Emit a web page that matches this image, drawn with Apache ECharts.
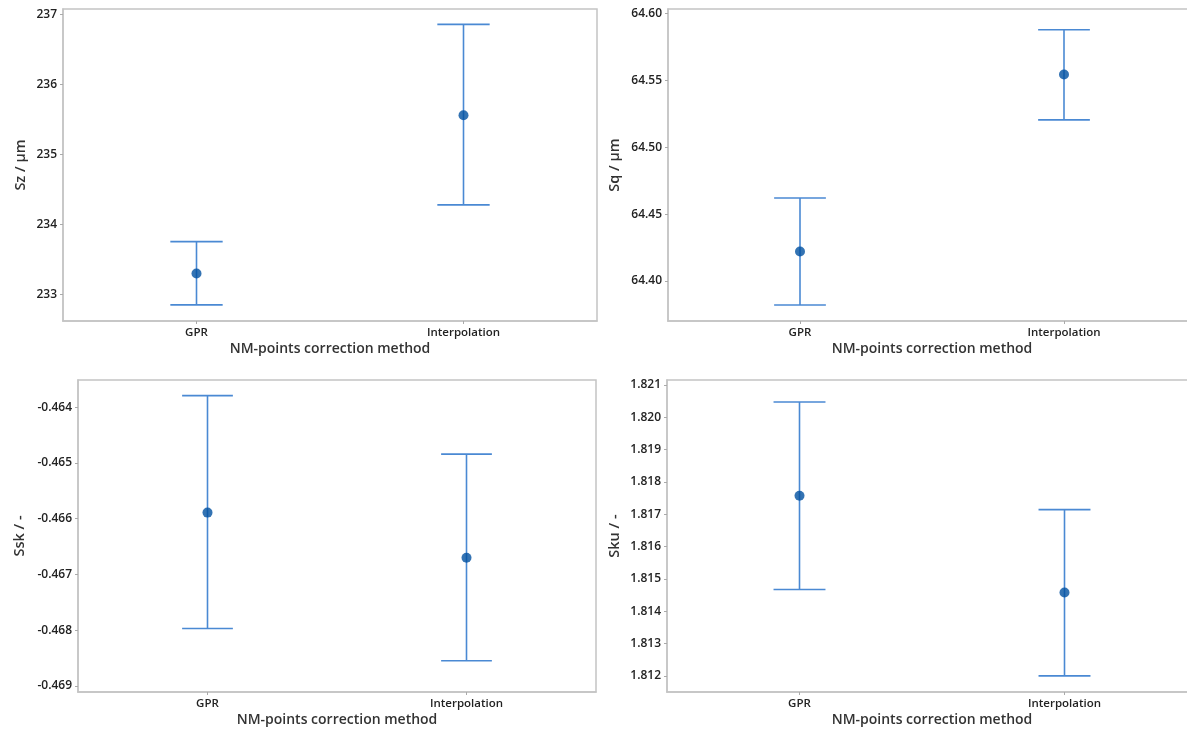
<!DOCTYPE html>
<html>
<head>
<meta charset="utf-8">
<script src="https://cdn.jsdelivr.net/npm/echarts@6/dist/echarts.min.js"></script>
<style>
html,body{margin:0;padding:0;background:#fff;}
#main{width:1187px;height:731px;}
</style>
</head>
<body>
<div id="main"></div>
<script>
// ---- data ----
var categories = ['GPR', 'Interpolation'];

var szMean = [233.30, 235.56];
var szLow  = [232.85, 234.28];
var szHigh = [233.755, 236.86];
var szTicks = [233, 234, 235, 236, 237];

var sqMean = [64.422, 64.5545];
var sqLow  = [64.382, 64.5205];
var sqHigh = [64.462, 64.588];
var sqTicks = [64.40, 64.45, 64.50, 64.55, 64.60];

var sskMean = [-0.46589, -0.46670];
var sskLow  = [-0.46797, -0.46855];
var sskHigh = [-0.46379, -0.46484];
var sskTicks = [-0.469, -0.468, -0.467, -0.466, -0.465, -0.464];

var skuMean = [1.81757, 1.81458];
var skuLow  = [1.81467, 1.81200];
var skuHigh = [1.82047, 1.81714];
var skuTicks = [1.812, 1.813, 1.814, 1.815, 1.816, 1.817, 1.818, 1.819, 1.820, 1.821];

var yNames = ['Sz / µm', 'Sq / µm', 'Ssk / -', 'Sku / -'];
var xName = 'NM-points correction method';

// ---- layout / style ----
var FONT = 'Open Sans';
var LINE = '#4a89d3';
var DOT = '#0050a0';
var AXIS = '#c4c4c4';

var panels = [
  {mean: szMean, low: szLow, high: szHigh, ticks: szTicks, dec: 0, min: 232.62, max: 237.08,
   grid: {left: 63, top: 9, width: 534, height: 312}, nameGap: 35},
  {mean: sqMean, low: sqLow, high: sqHigh, ticks: sqTicks, dec: 2, min: 64.37, max: 64.6035,
   grid: {left: 668, top: 9, width: 528, height: 312}, nameGap: 46},
  {mean: sskMean, low: sskLow, high: sskHigh, ticks: sskTicks, dec: 3, min: -0.46911, max: -0.46351,
   grid: {left: 78, top: 380, width: 518, height: 312}, nameGap: 51},
  {mean: skuMean, low: skuLow, high: skuHigh, ticks: skuTicks, dec: 3, min: 1.8115, max: 1.82115,
   grid: {left: 667, top: 380, width: 530, height: 312}, nameGap: 45}
];

var grids = [], xAxes = [], yAxes = [], series = [];
panels.forEach(function (p, i) {
  grids.push(Object.assign({show: true, borderColor: AXIS, borderWidth: 1.5, backgroundColor: '#fff',
    containLabel: false, outerBoundsMode: 'none'}, p.grid));
  xAxes.push({
    type: 'category', gridIndex: i, data: categories, boundaryGap: true,
    axisLine: {show: true, lineStyle: {color: AXIS, width: 1.5}},
    axisTick: {show: true, alignWithLabel: true, length: 3, lineStyle: {color: '#aaa'}},
    axisLabel: {color: '#222', fontFamily: FONT, fontSize: 11.5, fontWeight: 600, margin: 6},
    name: xName, nameLocation: 'middle', nameGap: 21,
    nameTextStyle: {color: '#333', fontFamily: FONT, fontSize: 14, fontWeight: 600},
    splitLine: {show: false}
  });
  yAxes.push({
    type: 'value', gridIndex: i, min: p.min, max: p.max, scale: true,
    axisLine: {show: true, lineStyle: {color: AXIS, width: 1.5}},
    axisTick: {show: true, length: 3, lineStyle: {color: '#aaa'}, customValues: p.ticks},
    axisLabel: {color: '#222', fontFamily: FONT, fontSize: 12, fontWeight: 600, margin: 6,
      customValues: p.ticks,
      formatter: (function (d) { return function (v) { return Number(v).toFixed(d); }; })(p.dec)},
    splitLine: {show: false},
    name: yNames[i], nameLocation: 'middle', nameGap: p.nameGap, nameRotate: 90,
    nameTextStyle: {color: '#333', fontFamily: FONT, fontSize: 14.5, fontWeight: 600}
  });
  var errData = categories.map(function (c, k) { return [k, p.low[k], p.high[k]]; });
  series.push({
    type: 'custom', xAxisIndex: i, yAxisIndex: i, data: errData, silent: true,
    renderItem: function (params, api) {
      var x = api.value(0);
      var top = api.coord([x, api.value(2)]);
      var bot = api.coord([x, api.value(1)]);
      var half = api.size([1, 0])[0] * 0.098;
      var st = {stroke: LINE, lineWidth: 1.6};
      return {type: 'group', children: [
        {type: 'line', shape: {x1: top[0], y1: top[1], x2: bot[0], y2: bot[1]}, style: st},
        {type: 'line', shape: {x1: top[0] - half, y1: top[1], x2: top[0] + half, y2: top[1]}, style: st},
        {type: 'line', shape: {x1: bot[0] - half, y1: bot[1], x2: bot[0] + half, y2: bot[1]}, style: st}
      ]};
    },
    z: 2
  });
  series.push({
    type: 'scatter', xAxisIndex: i, yAxisIndex: i,
    data: categories.map(function (c, k) { return [k, p.mean[k]]; }),
    symbol: 'circle', symbolSize: 10, itemStyle: {color: DOT}, z: 3, silent: true
  });
});

var chart = echarts.init(document.getElementById('main'), null, {renderer: 'canvas'});
chart.setOption({
  animation: false,
  backgroundColor: '#fff',
  grid: grids, xAxis: xAxes, yAxis: yAxes, series: series
});
</script>
</body>
</html>
